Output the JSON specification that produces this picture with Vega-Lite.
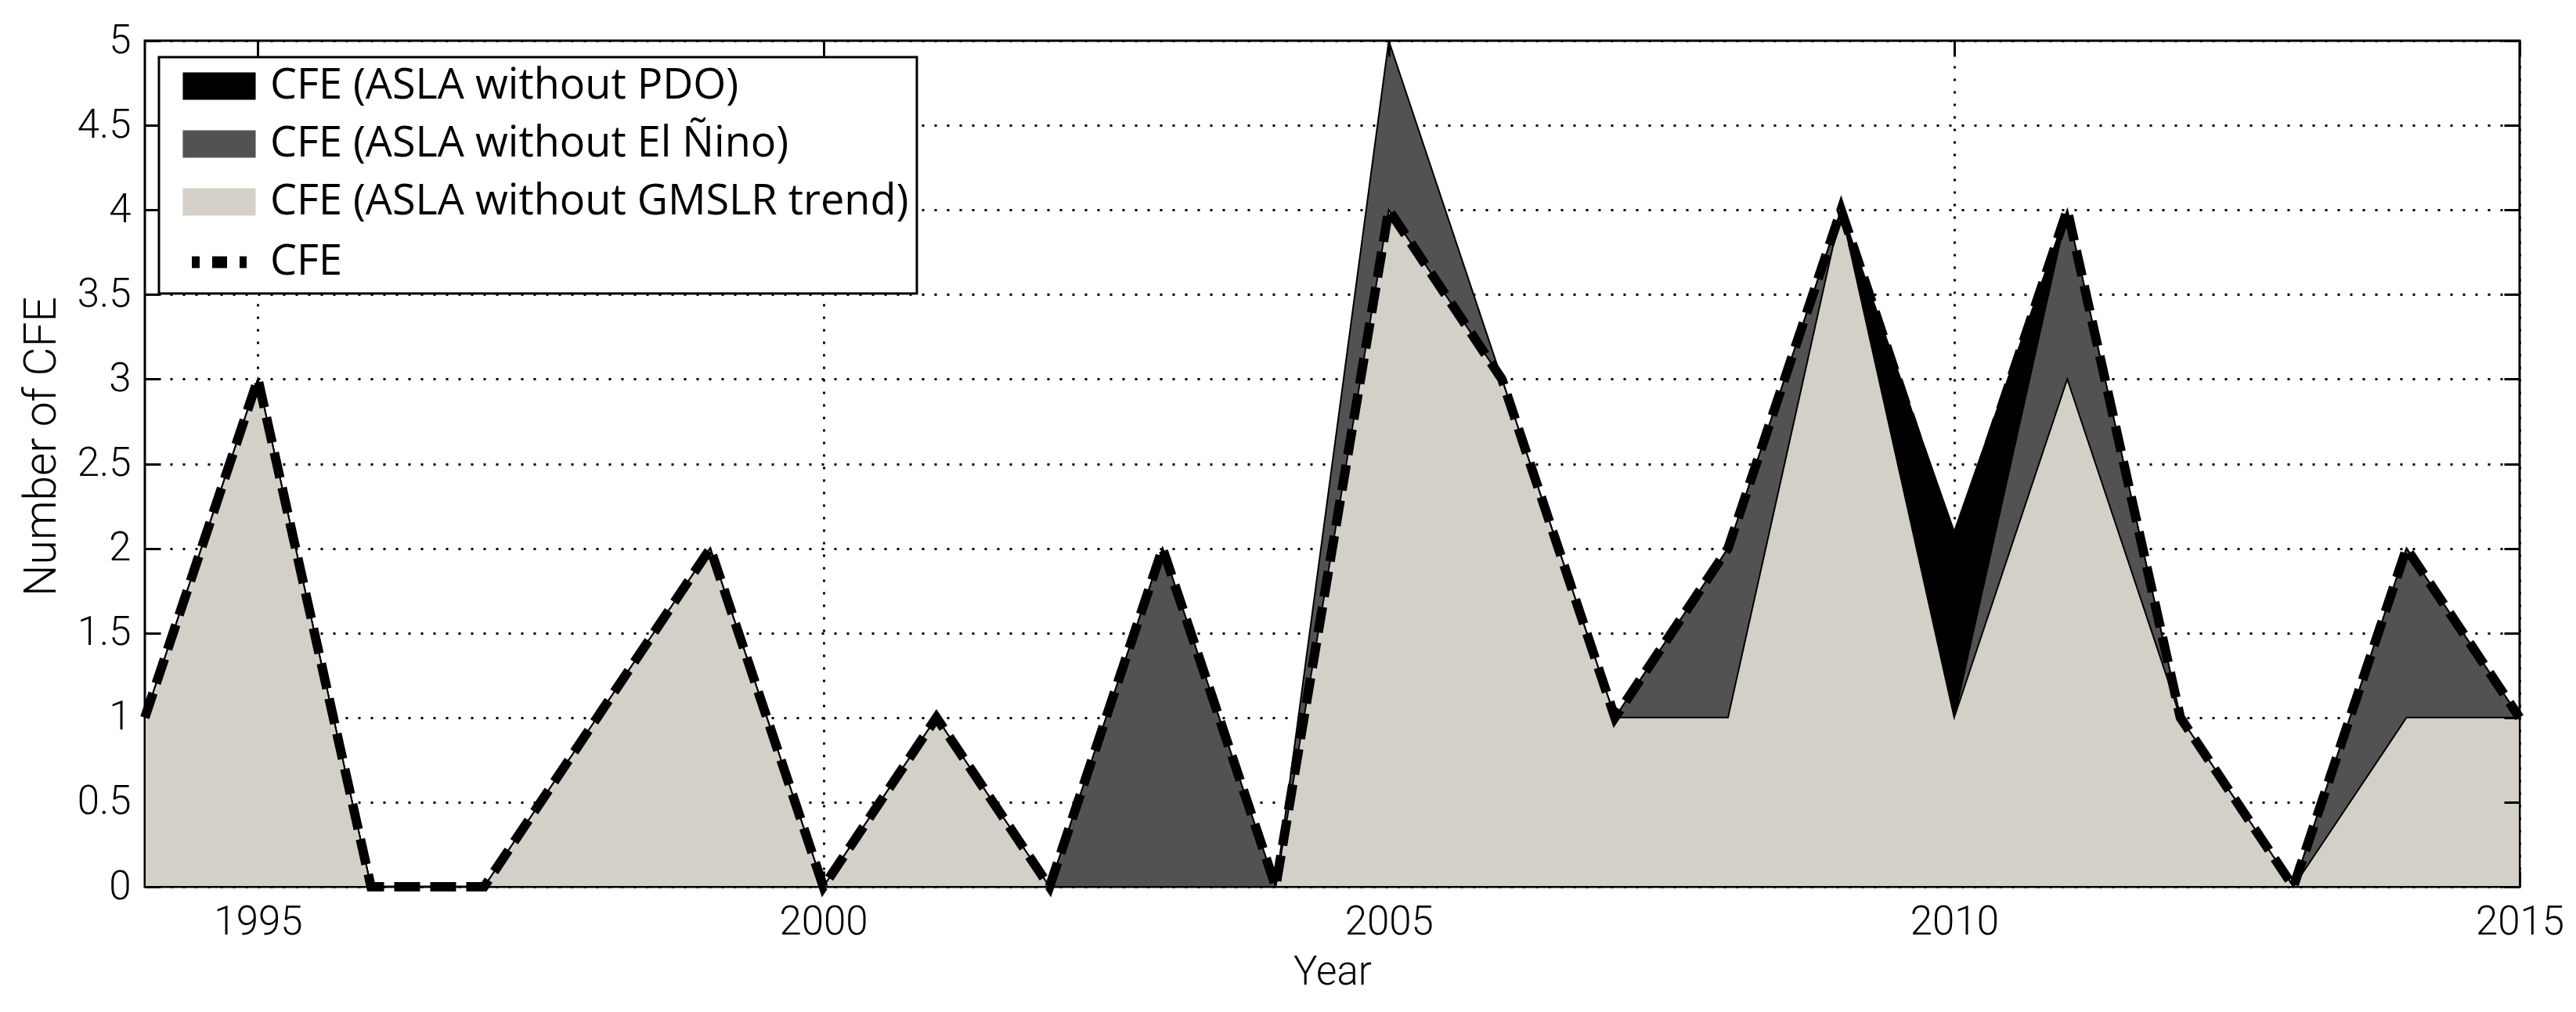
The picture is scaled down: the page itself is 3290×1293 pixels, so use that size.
{
  "$schema": "https://vega.github.io/schema/vega-lite/v6.json",
  "width": 3033,
  "height": 1081,
  "autosize": "none",
  "padding": {"left": 185, "top": 52, "right": 72, "bottom": 160},
  "background": "white",
  "config": {
    "view": {"stroke": "black", "strokeWidth": 3},
    "axis": {
      "labelFont": "Roboto", "labelFontWeight": 300, "labelFontSize": 51, "labelColor": "black",
      "titleFont": "Roboto", "titleFontWeight": 300, "titleFontSize": 51, "titleColor": "black",
      "tickColor": "black", "tickWidth": 3, "tickSize": -20,
      "gridColor": "black", "gridOpacity": 1, "gridWidth": 3, "gridDash": [3, 13],
      "domain": false, "labelFlush": false, "labelOverlap": false
    }
  },
  "datasets": {
    "cfe": [
      {"year": 1994, "series": "CFE (ASLA without PDO)", "value": 1},
      {"year": 1995, "series": "CFE (ASLA without PDO)", "value": 3},
      {"year": 1996, "series": "CFE (ASLA without PDO)", "value": 0},
      {"year": 1997, "series": "CFE (ASLA without PDO)", "value": 0},
      {"year": 1998, "series": "CFE (ASLA without PDO)", "value": 1},
      {"year": 1999, "series": "CFE (ASLA without PDO)", "value": 2},
      {"year": 2000, "series": "CFE (ASLA without PDO)", "value": 0},
      {"year": 2001, "series": "CFE (ASLA without PDO)", "value": 1},
      {"year": 2002, "series": "CFE (ASLA without PDO)", "value": 0},
      {"year": 2003, "series": "CFE (ASLA without PDO)", "value": 2},
      {"year": 2004, "series": "CFE (ASLA without PDO)", "value": 0},
      {"year": 2005, "series": "CFE (ASLA without PDO)", "value": 4},
      {"year": 2006, "series": "CFE (ASLA without PDO)", "value": 3},
      {"year": 2007, "series": "CFE (ASLA without PDO)", "value": 1},
      {"year": 2008, "series": "CFE (ASLA without PDO)", "value": 2},
      {"year": 2009, "series": "CFE (ASLA without PDO)", "value": 4},
      {"year": 2010, "series": "CFE (ASLA without PDO)", "value": 2.1},
      {"year": 2011, "series": "CFE (ASLA without PDO)", "value": 4},
      {"year": 2012, "series": "CFE (ASLA without PDO)", "value": 1},
      {"year": 2013, "series": "CFE (ASLA without PDO)", "value": 0},
      {"year": 2014, "series": "CFE (ASLA without PDO)", "value": 2},
      {"year": 2015, "series": "CFE (ASLA without PDO)", "value": 1},
      {"year": 1994, "series": "CFE (ASLA without El Ñino)", "value": 1},
      {"year": 1995, "series": "CFE (ASLA without El Ñino)", "value": 3},
      {"year": 1996, "series": "CFE (ASLA without El Ñino)", "value": 0},
      {"year": 1997, "series": "CFE (ASLA without El Ñino)", "value": 0},
      {"year": 1998, "series": "CFE (ASLA without El Ñino)", "value": 1},
      {"year": 1999, "series": "CFE (ASLA without El Ñino)", "value": 2},
      {"year": 2000, "series": "CFE (ASLA without El Ñino)", "value": 0},
      {"year": 2001, "series": "CFE (ASLA without El Ñino)", "value": 1},
      {"year": 2002, "series": "CFE (ASLA without El Ñino)", "value": 0},
      {"year": 2003, "series": "CFE (ASLA without El Ñino)", "value": 2},
      {"year": 2004, "series": "CFE (ASLA without El Ñino)", "value": 0},
      {"year": 2005, "series": "CFE (ASLA without El Ñino)", "value": 5},
      {"year": 2006, "series": "CFE (ASLA without El Ñino)", "value": 3},
      {"year": 2007, "series": "CFE (ASLA without El Ñino)", "value": 1},
      {"year": 2008, "series": "CFE (ASLA without El Ñino)", "value": 2},
      {"year": 2009, "series": "CFE (ASLA without El Ñino)", "value": 4},
      {"year": 2010, "series": "CFE (ASLA without El Ñino)", "value": 1},
      {"year": 2011, "series": "CFE (ASLA without El Ñino)", "value": 4},
      {"year": 2012, "series": "CFE (ASLA without El Ñino)", "value": 1},
      {"year": 2013, "series": "CFE (ASLA without El Ñino)", "value": 0},
      {"year": 2014, "series": "CFE (ASLA without El Ñino)", "value": 2},
      {"year": 2015, "series": "CFE (ASLA without El Ñino)", "value": 1},
      {"year": 1994, "series": "CFE (ASLA without GMSLR trend)", "value": 1},
      {"year": 1995, "series": "CFE (ASLA without GMSLR trend)", "value": 3},
      {"year": 1996, "series": "CFE (ASLA without GMSLR trend)", "value": 0},
      {"year": 1997, "series": "CFE (ASLA without GMSLR trend)", "value": 0},
      {"year": 1998, "series": "CFE (ASLA without GMSLR trend)", "value": 1},
      {"year": 1999, "series": "CFE (ASLA without GMSLR trend)", "value": 2},
      {"year": 2000, "series": "CFE (ASLA without GMSLR trend)", "value": 0},
      {"year": 2001, "series": "CFE (ASLA without GMSLR trend)", "value": 1},
      {"year": 2002, "series": "CFE (ASLA without GMSLR trend)", "value": 0},
      {"year": 2003, "series": "CFE (ASLA without GMSLR trend)", "value": 0},
      {"year": 2004, "series": "CFE (ASLA without GMSLR trend)", "value": 0},
      {"year": 2005, "series": "CFE (ASLA without GMSLR trend)", "value": 4},
      {"year": 2006, "series": "CFE (ASLA without GMSLR trend)", "value": 3},
      {"year": 2007, "series": "CFE (ASLA without GMSLR trend)", "value": 1},
      {"year": 2008, "series": "CFE (ASLA without GMSLR trend)", "value": 1},
      {"year": 2009, "series": "CFE (ASLA without GMSLR trend)", "value": 4},
      {"year": 2010, "series": "CFE (ASLA without GMSLR trend)", "value": 1},
      {"year": 2011, "series": "CFE (ASLA without GMSLR trend)", "value": 3},
      {"year": 2012, "series": "CFE (ASLA without GMSLR trend)", "value": 1},
      {"year": 2013, "series": "CFE (ASLA without GMSLR trend)", "value": 0},
      {"year": 2014, "series": "CFE (ASLA without GMSLR trend)", "value": 1},
      {"year": 2015, "series": "CFE (ASLA without GMSLR trend)", "value": 1},
      {"year": 1994, "series": "CFE", "value": 1},
      {"year": 1995, "series": "CFE", "value": 3},
      {"year": 1996, "series": "CFE", "value": 0},
      {"year": 1997, "series": "CFE", "value": 0},
      {"year": 1998, "series": "CFE", "value": 1},
      {"year": 1999, "series": "CFE", "value": 2},
      {"year": 2000, "series": "CFE", "value": 0},
      {"year": 2001, "series": "CFE", "value": 1},
      {"year": 2002, "series": "CFE", "value": 0},
      {"year": 2003, "series": "CFE", "value": 2},
      {"year": 2004, "series": "CFE", "value": 0},
      {"year": 2005, "series": "CFE", "value": 4},
      {"year": 2006, "series": "CFE", "value": 3},
      {"year": 2007, "series": "CFE", "value": 1},
      {"year": 2008, "series": "CFE", "value": 2},
      {"year": 2009, "series": "CFE", "value": 4},
      {"year": 2010, "series": "CFE", "value": 2},
      {"year": 2011, "series": "CFE", "value": 4},
      {"year": 2012, "series": "CFE", "value": 1},
      {"year": 2013, "series": "CFE", "value": 0},
      {"year": 2014, "series": "CFE", "value": 2},
      {"year": 2015, "series": "CFE", "value": 1}
    ]
  },
  "data": {"name": "cfe"},
  "layer": [
    {
      "encoding": {
        "x": {
          "field": "year", "type": "quantitative",
          "scale": {"domain": [1994, 2015], "nice": false, "zero": false},
          "axis": {
            "orient": "bottom", "values": [1995, 2000, 2005, 2010, 2015], "format": "d",
            "title": "Year", "grid": true, "labelBaseline": "alphabetic", "labelPadding": 80,
            "titleBaseline": "alphabetic", "titleY": 124
          }
        },
        "y": {
          "field": "value", "type": "quantitative",
          "scale": {"domain": [0, 5], "nice": false, "zero": true},
          "axis": {
            "orient": "left", "values": [0, 0.5, 1, 1.5, 2, 2.5, 3, 3.5, 4, 4.5, 5], "format": "~g",
            "title": "Number of CFE", "grid": true, "labelPadding": 38,
            "titleFontSize": 57,
            "titleAngle": -90, "titleX": -115, "titleY": 518, "titleAlign": "center", "titleBaseline": "alphabetic"
          }
        },
        "color": {
          "field": "series", "type": "nominal",
          "scale": {
            "domain": ["CFE (ASLA without PDO)", "CFE (ASLA without El Ñino)", "CFE (ASLA without GMSLR trend)", "CFE"],
            "range": ["#000000", "#525252", "#d4d0c8", "#000000"]
          },
          "legend": {
            "title": null, "orient": "none", "legendX": 18, "legendY": 21,
            "labelFont": "Open Sans", "labelFontSize": 54, "labelColor": "black", "labelLimit": 2000,
            "strokeColor": "black", "fillColor": "white", "padding": 10,
            "symbolSize": 1225, "symbolOffset": 40, "labelOffset": 38, "rowPadding": 20,
            "symbolOpacity": 1,
            "encode": {
              "legend": {"update": {"strokeWidth": {"value": 3}}},
              "symbols": {"update": {
                "shape": {"signal": "datum.value === 'CFE' ? 'M-2,0H2' : 'M-2.66,-1H2.66V1H-2.66Z'"},
                "fill": {"signal": "datum.value === 'CFE' ? 'transparent' : scale('color', datum.value)"},
                "stroke": {"signal": "datum.value === 'CFE' ? 'black' : 'transparent'"},
                "strokeWidth": {"signal": "datum.value === 'CFE' ? 15 : 0"},
                "strokeDash": {"signal": "datum.value === 'CFE' ? [10, 16, 19, 16] : [1, 0]"},
                "opacity": {"value": 1}
              }}
            }
          }
        }
      },
      "layer": [
        {
          "transform": [{"filter": "datum.series === 'CFE (ASLA without PDO)'"}],
          "mark": {"type": "area", "opacity": 1, "stroke": "black", "strokeWidth": 2}
        },
        {
          "transform": [{"filter": "datum.series === 'CFE (ASLA without El Ñino)'"}],
          "mark": {"type": "area", "opacity": 1, "stroke": "black", "strokeWidth": 2}
        },
        {
          "transform": [{"filter": "datum.series === 'CFE (ASLA without GMSLR trend)'"}],
          "mark": {"type": "area", "opacity": 1, "stroke": "black", "strokeWidth": 2}
        },
        {
          "transform": [{"filter": "datum.series === 'CFE'"}],
          "mark": {"type": "line", "strokeWidth": 12, "strokeDash": [33, 13], "opacity": 1}
        }
      ]
    },
    {
      "transform": [{"filter": "datum.series === 'CFE'"}],
      "mark": {"type": "line", "opacity": 0},
      "encoding": {
        "x": {
          "field": "year", "type": "quantitative",
          "axis": {"orient": "top", "values": [1995, 2000, 2005, 2010, 2015], "labels": false, "title": null, "grid": false, "zindex": 2}
        },
        "y": {
          "field": "value", "type": "quantitative",
          "axis": {"orient": "right", "values": [0, 0.5, 1, 1.5, 2, 2.5, 3, 3.5, 4, 4.5, 5], "labels": false, "title": null, "grid": false, "zindex": 2}
        }
      }
    }
  ],
  "resolve": {"axis": {"x": "independent", "y": "independent"}}
}
